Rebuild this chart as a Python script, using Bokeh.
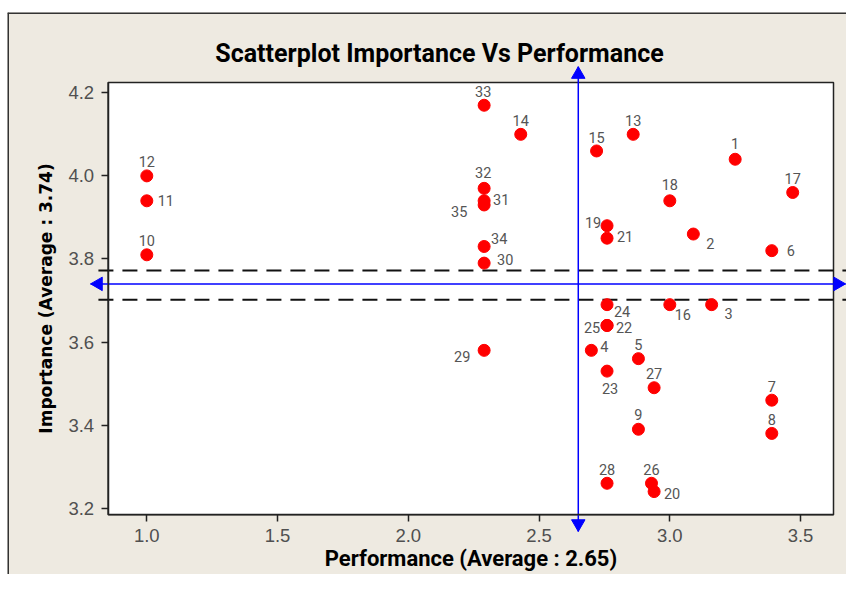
import math
from bokeh.plotting import figure
from bokeh.models import (ColumnDataSource, Range1d, LabelSet, Label, LinearAxis,
                          FixedTicker, PrintfTickFormatter)
from bokeh.core.properties import value
from bokeh.embed import file_html
from bokeh.resources import INLINE

# ---------------- data ----------------
point_ids = [str(i) for i in range(1, 36)]
performance = [3.25, 3.09, 3.16, 2.70, 2.88, 3.39, 3.39, 3.39, 2.88, 1.00,
               1.00, 1.00, 2.86, 2.43, 2.72, 3.00, 3.47, 3.00, 2.76, 2.94,
               2.76, 2.76, 2.76, 2.76, 2.76, 2.93, 2.94, 2.76, 2.29, 2.29,
               2.29, 2.29, 2.29, 2.29, 2.29]
importance = [4.04, 3.86, 3.69, 3.58, 3.56, 3.82, 3.46, 3.38, 3.39, 3.81,
              3.94, 4.00, 4.10, 4.10, 4.06, 3.69, 3.96, 3.94, 3.88, 3.24,
              3.85, 3.64, 3.53, 3.69, 3.64, 3.26, 3.49, 3.26, 3.58, 3.79,
              3.94, 3.97, 4.17, 3.83, 3.93]
avg_performance = 2.65
avg_importance = 3.74
band_low = 3.702
band_high = 3.772
x_ticks = [1.0, 1.5, 2.0, 2.5, 3.0, 3.5]
y_ticks = [3.2, 3.4, 3.6, 3.8, 4.0, 4.2]
title_text = "Scatterplot Importance Vs Performance"
x_label = "Performance (Average : 2.65)"
y_label = "Importance (Average : 3.74)"

# ---------------- layout / style ----------------
# inner plotting box (axis extents)
box_x = (0.852, 3.626)
box_y = (3.184, 4.225)
# whole canvas extents in data units
canvas_x = (0.4673, 3.6757)
canvas_y = (3.0404, 4.3933)
W, H = 839, 562
px_x = W / (canvas_x[1] - canvas_x[0])
px_y = H / (canvas_y[1] - canvas_y[0])

# label placement (pixels, label centre relative to point, screen-down y)
label_dx = [0, 17, 17, 13, 0, 19, 0, 0, 0, 0,
            19, 0, 0, 0, 0, 13, 0, 0, -14, 18,
            18, 17, 3, 15, -15, 0, 0, 0, -22, 21,
            17, -1, -1, 15, -25]
label_dy = [-16, 9, 9, -4, -14, 0, -14, -14, -15, -14,
            0, -14, -14, -14, -13, 10, -14, -16, -3, 2,
            -2, 2, 17, 7, 2, -14, -14, -14, 6, -4,
            -1, -16, -14, -8, 7]

BG = "#EEEAE1"
BLUE = "#0000FF"
DARK = "#222222"

p = figure(width=W, height=H, output_backend="svg", toolbar_location=None,
           x_range=Range1d(*canvas_x), y_range=Range1d(*canvas_y),
           x_axis_location=None, y_axis_location=None,
           min_border=0, min_border_left=0, min_border_right=0,
           min_border_top=0, min_border_bottom=0,
           background_fill_color=BG, border_fill_color=BG, outline_line_color=None,
           styles={"margin-left": "7px", "margin-top": "12px"})
p.grid.visible = False

# white plotting box
p.quad(left=[box_x[0]], right=[box_x[1]], bottom=[box_y[0]], top=[box_y[1]],
       fill_color="white", line_color=DARK, line_width=1.5)

# axes pinned to the box edges
xaxis = LinearAxis(fixed_location=box_y[0], bounds=box_x)
yaxis = LinearAxis(fixed_location=box_x[0], bounds=box_y)
p.add_layout(xaxis, "below")
p.add_layout(yaxis, "left")
for ax, ticks in ((xaxis, x_ticks), (yaxis, y_ticks)):
    ax.ticker = FixedTicker(ticks=ticks)
    ax.formatter = PrintfTickFormatter(format="%.1f")
    ax.minor_tick_line_color = None
    ax.major_tick_in = 0
    ax.major_tick_out = 7
    ax.major_tick_line_color = DARK
    ax.major_tick_line_width = 1.5
    ax.axis_line_color = DARK
    ax.axis_line_width = 1.5
    ax.major_label_text_font = "Liberation Sans"
    ax.major_label_text_font_size = "18.5px"
    ax.major_label_text_color = "#505050"
    ax.axis_label_text_color = "black"
    ax.axis_label_text_font_style = "bold"

xaxis.major_label_standoff = 7
yaxis.major_label_standoff = 7
xaxis.axis_label = x_label
xaxis.axis_label_text_font = "Roboto"
xaxis.axis_label_text_font_size = "22px"
xaxis.axis_label_standoff = 1
yaxis.axis_label = y_label
yaxis.axis_label_text_font = "DejaVu Sans"
yaxis.axis_label_text_font_size = "17px"
yaxis.axis_label_standoff = 10

# dashed band around the importance average
p.segment(x0=[0.815, 0.815], y0=[band_high, band_low], x1=[3.70, 3.70],
          y1=[band_high, band_low], line_color="#111111", line_width=2, line_dash="15 9")

# average lines (blue) with arrow heads
h_left, h_right = 0.785, 3.672
v_bottom, v_top = 3.144, 4.263
p.segment(x0=[h_left, avg_performance], y0=[avg_importance, v_bottom],
          x1=[h_right, avg_performance], y1=[avg_importance, v_top],
          line_color=BLUE, line_width=1.5)
head = 13.5
tip = head / 2 * math.sqrt(3) * 2 / 3   # centre-to-tip distance of triangle marker
p.scatter(x=[h_left + tip / px_x, h_right - tip / px_x, avg_performance, avg_performance],
          y=[avg_importance, avg_importance, v_top - tip / px_y, v_bottom + tip / px_y],
          marker="triangle", size=head, angle=[math.pi / 2, -math.pi / 2, 0, math.pi],
          fill_color=BLUE, line_color=BLUE)

# data points
src = ColumnDataSource(dict(x=performance, y=importance, name=point_ids,
                            dx=label_dx, dy=[-d for d in label_dy]))
p.scatter("x", "y", source=src, size=12, fill_color="#FF0000", line_color="#FF0000")
p.add_layout(LabelSet(x="x", y="y", text="name", source=src, x_offset="dx", y_offset="dy",
                      text_align="center", text_baseline="middle",
                      text_font=value("Roboto"), text_font_size="14.5px",
                      text_color="#555555"))

# title
p.add_layout(Label(x=432, y=521, x_units="screen", y_units="screen", text=title_text,
                   text_align="center", text_baseline="alphabetic", text_font="Roboto",
                   text_font_style="bold", text_font_size="25px", text_color="black"))

# dark outer border (top and left)
p.segment(x0=[canvas_x[0], canvas_x[0]], y0=[canvas_y[1], canvas_y[1]],
          x1=[canvas_x[1], canvas_x[0]], y1=[canvas_y[1], canvas_y[0]],
          line_color="#333333", line_width=3)

open("out.html", "w").write(file_html(p, INLINE))
